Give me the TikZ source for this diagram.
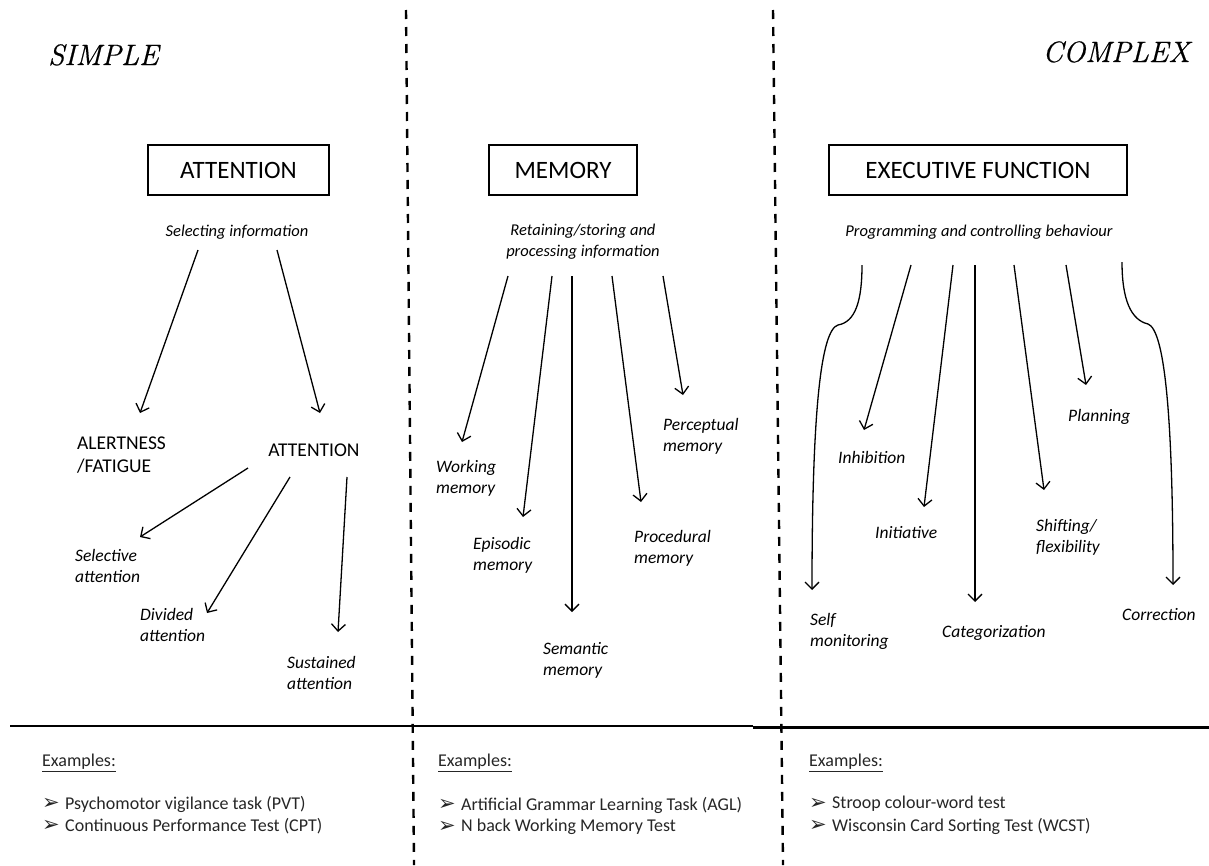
\documentclass[tikz,border=0pt]{standalone}
\usepackage{fontspec}
\newfontfamily\calibri{Carlito}
\newfontfamily\dejavu{DejaVu Sans}
\newfontfamily\headfont{Latin Modern Roman}[FakeBold=0.5]
\usetikzlibrary{arrows.meta}
\newcommand{\bul}{\makebox[23pt][l]{\raisebox{-0.5pt}{\dejavu\fontsize{21}{21}\selectfont ➢}}}
\begin{document}
\begin{tikzpicture}[x=1pt,y=-1pt,
  conn/.style={line width=1.3pt,-{Straight Barb[length=7pt,width=14pt]}},
  divider/.style={line width=2.4pt,dash pattern=on 9pt off 8pt},
  footrule/.style={line width=2.2pt},
  scalehead/.style={font=\headfont\fontsize{29.5}{33}\selectfont\itshape, inner sep=0pt},
  domainbox/.style={draw, line width=1.3pt, minimum height=50pt, inner sep=0pt,
    font=\calibri\fontsize{25}{30}\selectfont},
  gloss/.style={font=\calibri\itshape\fontsize{16.5}{21}\selectfont, align=center, inner sep=0pt},
  branch/.style={font=\calibri\fontsize{19.5}{23}\selectfont, align=left, inner sep=0pt},
  leaf/.style={font=\calibri\itshape\fontsize{17.5}{21}\selectfont, align=left, anchor=west, inner sep=0pt},
  exhead/.style={font=\calibri\fontsize{18}{22}\selectfont, text=black!85, anchor=west, inner sep=0pt},
  exitem/.style={font=\calibri\fontsize{18}{22}\selectfont, text=black!85, anchor=west, inner sep=0pt}]
\useasboundingbox (0,0) rectangle (1209,865);

% column dividers and footer rule
\coordinate (d1t) at (406,10);   \coordinate (d1b) at (414,865);
\coordinate (d2t) at (773,10);   \coordinate (d2b) at (783,865);
\draw[divider] (d1t) -- (d1b);
\draw[divider] (d2t) -- (d2b);
\coordinate (r1) at (10,726);   \coordinate (r2) at (753,726);
\coordinate (r3) at (753,727.5); \coordinate (r4) at (1209,727.5);
\draw[footrule] (r1) -- (r2);
\draw[footrule] (r3) -- (r4);

% scale headings
\node[scalehead, anchor=base west] (simple) at (48,65) {SIMPLE};
\node[scalehead, anchor=base east] (complex) at (1190,62) {COMPLEX};

% domains
\node[domainbox, minimum width=181pt] (att) at (238.5,170) {ATTENTION};
\node[domainbox, minimum width=148pt] (mem) at (563,170) {MEMORY};
\node[domainbox, minimum width=298pt] (exe) at (978,170) {EXECUTIVE FUNCTION};

\node[gloss] (attg) at (237,232) {Selecting information};
\node[gloss] (memg) at (583,242) {Retaining/storing and\\processing information};
\node[gloss] (exeg) at (979,232) {Programming and controlling behaviour};

% attention branch
\node[branch, anchor=west] (alert) at (77,455) {ALERTNESS\\/FATIGUE};
\node[branch] (att2) at (314,450) {ATTENTION};
\coordinate (a1s) at (198,250); \coordinate (a1e) at (140,413);
\coordinate (a2s) at (277,250); \coordinate (a2e) at (320,413);
\draw[conn] (a1s) -- (a1e);
\draw[conn] (a2s) -- (a2e);

\node[leaf] (sel) at (75,566) {Selective\\attention};
\node[leaf] (div) at (140,625) {Divided\\attention};
\node[leaf] (sus) at (287,673) {Sustained\\attention};
\coordinate (s1s) at (248,468); \coordinate (s1e) at (140,537);
\coordinate (s2s) at (290,477); \coordinate (s2e) at (207,613);
\coordinate (s3s) at (347,477); \coordinate (s3e) at (338,632);
\draw[conn] (s1s) -- (s1e);
\draw[conn] (s2s) -- (s2e);
\draw[conn] (s3s) -- (s3e);

% memory branch
\node[leaf] (work) at (436,478) {Working\\memory};
\node[leaf] (epi) at (473,555) {Episodic\\memory};
\node[leaf] (sem) at (543,660) {Semantic\\memory};
\node[leaf] (proc) at (634,548) {Procedural\\memory};
\node[leaf] (perc) at (663,436) {Perceptual\\memory};
\coordinate (m1s) at (508,276); \coordinate (m1e) at (462,442);
\coordinate (m2s) at (552,276); \coordinate (m2e) at (523,517);
\coordinate (m3s) at (572,276); \coordinate (m3e) at (572,612);
\coordinate (m4s) at (612,276); \coordinate (m4e) at (641,502);
\coordinate (m5s) at (663,276); \coordinate (m5e) at (683,395);
\draw[conn] (m1s) -- (m1e);
\draw[conn] (m2s) -- (m2e);
\draw[conn] (m3s) -- (m3e);
\draw[conn] (m4s) -- (m4e);
\draw[conn] (m5s) -- (m5e);

% executive function branch
\node[leaf] (plan) at (1068,417) {Planning};
\node[leaf] (inh) at (838,457) {Inhibition};
\node[leaf] (ini) at (875,533) {Initiative};
\node[leaf] (shift) at (1036,537) {Shifting/\\flexibility};
\node[leaf] (self) at (810,631) {Self\\monitoring};
\node[leaf] (cat) at (942,633) {Categorization};
\node[leaf] (corr) at (1122,615) {Correction};
\coordinate (e1s) at (862,265); \coordinate (e1m) at (838,325); \coordinate (e1e) at (812,590);
\coordinate (e2s) at (911,265); \coordinate (e2e) at (864,430);
\coordinate (e3s) at (953,265); \coordinate (e3e) at (924,507);
\coordinate (e4s) at (975,265); \coordinate (e4e) at (975,602);
\coordinate (e5s) at (1014,265); \coordinate (e5e) at (1044,490);
\coordinate (e6s) at (1066,265); \coordinate (e6e) at (1086,385);
\coordinate (e7s) at (1122,262); \coordinate (e7m) at (1148,324); \coordinate (e7e) at (1173,585);
\draw[conn] (e1s) .. controls (862,302) and (855,322) .. (e1m)
  .. controls (821,330) and (812,410) .. (e1e);
\draw[conn] (e2s) -- (e2e);
\draw[conn] (e3s) -- (e3e);
\draw[conn] (e4s) -- (e4e);
\draw[conn] (e5s) -- (e5e);
\draw[conn] (e6s) -- (e6e);
\draw[conn] (e7s) .. controls (1122,300) and (1131,320) .. (e7m)
  .. controls (1164,330) and (1173,410) .. (e7e);

% examples
\node[exhead] (ex1) at (42,763) {\underline{Examples:}};
\node[exitem] (ex1a) at (42,804) {\bul Psychomotor vigilance task (PVT)};
\node[exitem] (ex1b) at (42,826) {\bul Continuous Performance Test (CPT)};
\node[exhead] (ex2) at (438,763) {\underline{Examples:}};
\node[exitem] (ex2a) at (438,805) {\bul Artificial Grammar Learning Task (AGL)};
\node[exitem] (ex2b) at (438,827) {\bul N back Working Memory Test};
\node[exhead] (ex3) at (809,763) {\underline{Examples:}};
\node[exitem] (ex3a) at (809,804) {\bul Stroop colour-word test};
\node[exitem] (ex3b) at (809,826) {\bul Wisconsin Card Sorting Test (WCST)};
\end{tikzpicture}
\end{document}
